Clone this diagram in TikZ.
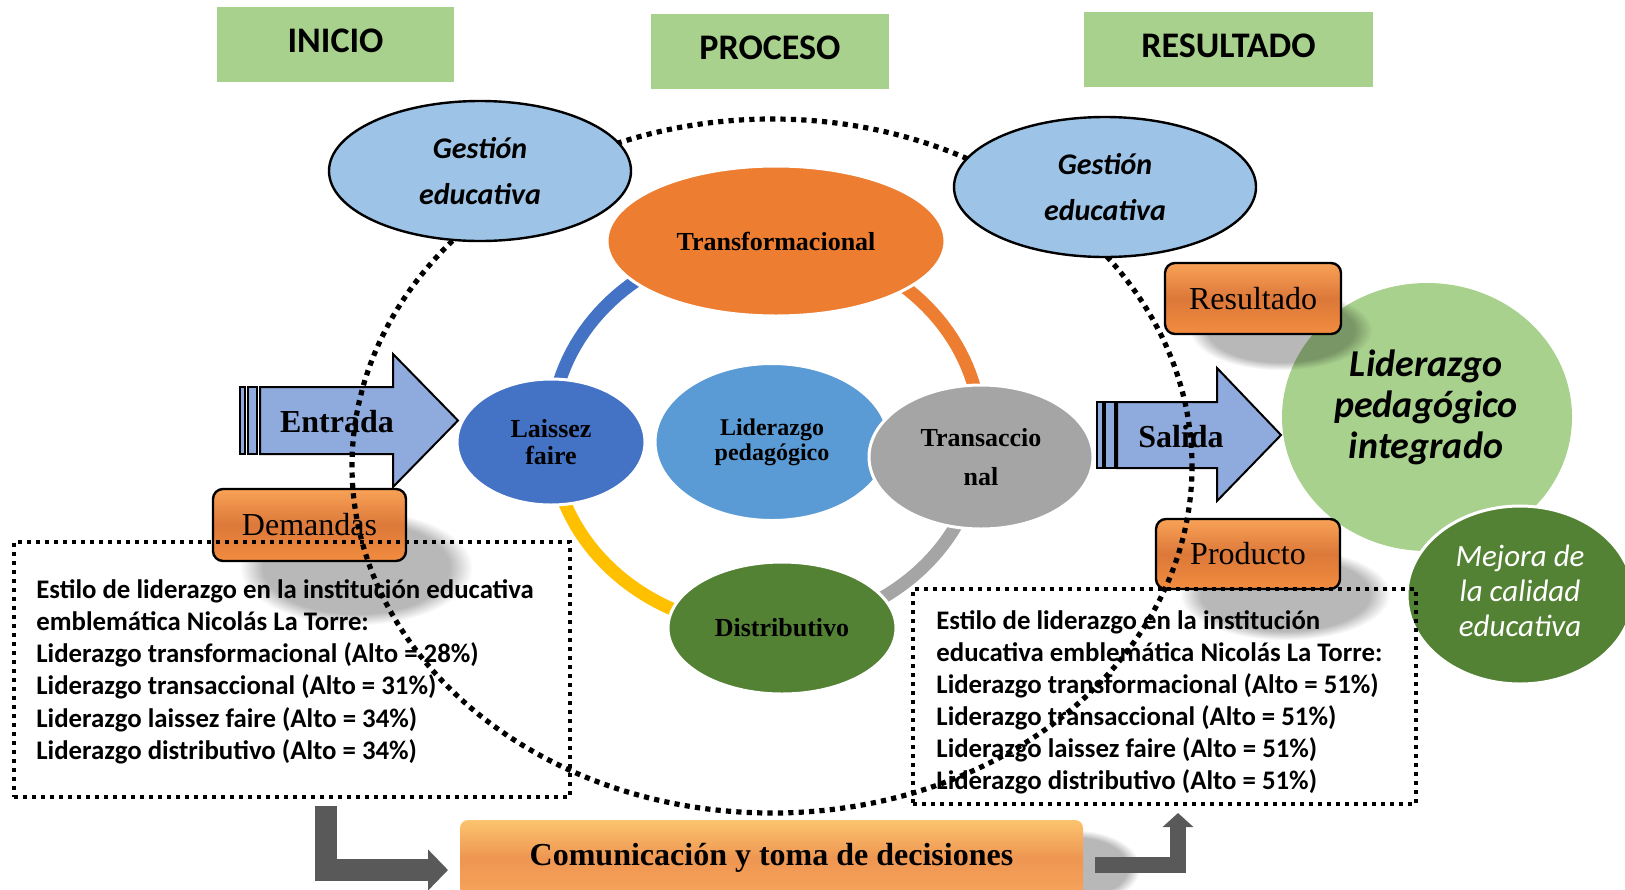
\documentclass[tikz,border=0pt]{standalone}
\usepackage{fontspec}
\setmainfont{Liberation Serif}
\newfontfamily\calfont{Carlito}
\usetikzlibrary{shapes.geometric,arrows.meta,fadings}
\definecolor{hdrgreen}{HTML}{A9D18E}
\definecolor{gestblue}{HTML}{9DC3E6}
\definecolor{accorange}{HTML}{ED7D31}
\definecolor{accblue}{HTML}{4472C4}
\definecolor{midblue}{HTML}{5B9BD5}
\definecolor{accgray}{HTML}{A5A5A5}
\definecolor{accgold}{HTML}{FFC000}
\definecolor{accgreen}{HTML}{548235}
\definecolor{arrowblue}{HTML}{8FAADC}
\definecolor{darkgray}{HTML}{595959}
\definecolor{orA}{HTML}{F9A257}
\definecolor{orB}{HTML}{DC7839}
\definecolor{orC}{HTML}{F28C3F}
\definecolor{coA}{HTML}{FCC46E}
\definecolor{coB}{HTML}{EE9652}
\definecolor{coC}{HTML}{F7A45C}
\tikzset{
  hdr/.style={fill=hdrgreen, inner sep=0pt, text depth=3.5pt, font=\calfont\bfseries\fontsize{18}{22}\selectfont},
  gest/.style={ellipse, draw=black, line width=1.2pt, fill=gestblue, inner sep=0pt, align=center,
    font=\calfont\bfseries\itshape\fontsize{15}{23}\selectfont},
  ringnode/.style={ellipse, draw=white, line width=1.5pt, inner sep=0pt, align=center,
    font=\bfseries\fontsize{13}{13.5}\selectfont},
  ringarc/.style={line width=6.5pt},
  obox/.style={rectangle, rounded corners=5pt, draw=black, line width=1.2pt,
    top color=orA, bottom color=orC, middle color=orB, inner sep=0pt,
    font=\fontsize{16}{19}\selectfont},
  cbox/.style={rectangle, rounded corners=4pt, top color=coA, bottom color=coC, middle color=coB,
    inner sep=0pt, font=\bfseries\fontsize{16}{19}\selectfont},
  txtbox/.style={draw=black, line width=2pt, dash pattern=on 2.2pt off 2.3pt, inner sep=0pt},
  boxline/.style={font=\calfont\bfseries\fontsize{13.4}{16}\selectfont, inner sep=0pt, anchor=base west},
  bigarrow/.style={fill=arrowblue, draw=black, line width=1pt, line join=miter},
  arrowtext/.style={font=\bfseries\fontsize{16}{19}\selectfont, inner sep=0pt},
  shadowblob/.style={fill=black, fill opacity=0.28, path fading=circle with fuzzy edge 20 percent},
  bigdot/.style={draw=black, line width=2.6pt, dash pattern=on 2.6pt off 2.6pt},
  grayarrow/.style={draw=darkgray, line join=miter},
}
\begin{document}
\begin{tikzpicture}[x=0.5pt,y=-0.5pt]
\useasboundingbox (0,0) rectangle (1625,889);
\clip (0,0) rectangle (1625,889);

% headers
\node[hdr, minimum width=118.5pt, minimum height=37.5pt] (inicio) at (335.5,44.5) {INICIO};
\node[hdr, minimum width=119pt, minimum height=37.5pt] (proceso) at (770,51.5) {PROCESO};
\node[hdr, minimum width=144.5pt, minimum height=37.5pt] (resultadoh) at (1228.5,49.5) {RESULTADO};

% ring arcs
\draw[ringarc, draw=accblue] plot[domain=180:270, samples=40, variable=\t] ({766+215*cos(\t)}, {435+193.5*sin(\t)});
\draw[ringarc, draw=accorange] plot[domain=270:360, samples=40, variable=\t] ({766+215*cos(\t)}, {435+193.5*sin(\t)});
\draw[ringarc, draw=accgray] plot[domain=0:90, samples=40, variable=\t] ({766+215*cos(\t)}, {435+193.5*sin(\t)});
\draw[ringarc, draw=accgold] plot[domain=90:180, samples=40, variable=\t] ({766+215*cos(\t)}, {435+193.5*sin(\t)});

% ring nodes
\node[ringnode, fill=accorange, minimum width=169pt, minimum height=75pt] (tf) at (776,241) {Transformacional};
\node[ringnode, fill=accblue, minimum width=94pt, minimum height=63pt] (lf) at (551,442) {Laissez\\faire};
\node[ringnode, fill=midblue, minimum width=117pt, minimum height=78.5pt, font=\bfseries\fontsize{12}{12.5}\selectfont] (lp) at (772,442) {Liderazgo\\pedagógico};
\node[ringnode, fill=accgray, minimum width=112pt, minimum height=72pt, font=\bfseries\fontsize{13}{19.5}\selectfont] (tr) at (981,457) {Transaccio\\nal};
\node[ringnode, fill=accgreen, minimum width=114pt, minimum height=66pt] (di) at (782,628) {Distributivo};

% Entrada arrow
\draw[bigarrow] (240,387) rectangle (245,454);
\draw[bigarrow] (248,387) rectangle (257,454);
\draw[bigarrow] (260,387) -- (393,387) -- (393,354) -- (458,420.5) -- (393,487) -- (393,454) -- (260,454) -- cycle;
\node[arrowtext] (entrada) at (337,422) {Entrada};

% Salida arrow
\draw[bigarrow] (1097,402) rectangle (1103,468);
\draw[bigarrow] (1105,402) rectangle (1115,468);
\draw[bigarrow] (1117,402) -- (1217,402) -- (1217,368) -- (1281,435) -- (1217,501) -- (1217,468) -- (1117,468) -- cycle;
\node[arrowtext] (salida) at (1181,437) {Salida};

% green circles
\node[ellipse, fill=hdrgreen, inner sep=0pt, minimum width=145pt, minimum height=134pt] (lpi) at (1427,417) {};
\node[align=center, inner sep=0pt, font=\calfont\bfseries\itshape\fontsize{19}{20.5}\selectfont] (lpitext) at (1426,407) {Liderazgo\\pedagógico\\integrado};
\node[ellipse, fill=accgreen, draw=white, line width=1.5pt, inner sep=0pt, minimum width=113pt, minimum height=89pt] (mej) at (1520,595) {};
\node[align=center, inner sep=0pt, text=white, font=\calfont\itshape\fontsize{15.5}{17.5}\selectfont] (mejtext) at (1520,591) {Mejora de\\la calidad\\educativa};

% shadows
\fill[shadowblob] (240,510) rectangle (472,625);
\fill[shadowblob] (1190,290) rectangle (1372,370);
\fill[shadowblob] (1180,548) rectangle (1390,640);
\fill[shadowblob] (1010,830) rectangle (1140,905);

% orange boxes
\node[obox, minimum width=96.5pt, minimum height=36pt] (dem) at (309.5,525) {Demandas};
\node[obox, minimum width=88pt, minimum height=35.5pt] (res) at (1253,298.5) {Resultado};
\node[obox, minimum width=92pt, minimum height=35pt] (prod) at (1248,554) {Producto};
\node[cbox, minimum width=311.5pt, minimum height=38pt] (com) at (771.5,858) {Comunicación y toma de decisiones};

% gray L arrows
\coordinate (la0) at (326,806);
\coordinate (la1) at (448,870);
\draw[grayarrow, line width=11pt, -{Triangle[width=20pt,length=10pt]}] (la0) |- (la1);
\coordinate (ra0) at (1095,865);
\coordinate (ra1) at (1178,813);
\draw[grayarrow, line width=8pt, -{Triangle[width=15pt,length=7pt]}] (ra0) -| (ra1);

% text boxes
\node[txtbox, minimum width=278pt, minimum height=127.5pt] (lbox) at (292,669.5) {};
\foreach \ln [count=\i] in {{Estilo de liderazgo en la institución educativa},{emblemática Nicolás La Torre:},{Liderazgo transformacional (Alto = 28\%)},{Liderazgo transaccional (Alto = 31\%)},{Liderazgo laissez faire (Alto = 34\%)},{Liderazgo distributivo (Alto = 34\%)}}
  \node[boxline] (ll\i) at (36,{598+32.3*(\i-1)}) {\ln};
\node[txtbox, minimum width=251.5pt, minimum height=107.5pt] (rbox) at (1164.5,696.5) {};
\foreach \ln [count=\i] in {{Estilo de liderazgo en la institución},{educativa emblemática Nicolás La Torre:},{Liderazgo transformacional (Alto = 51\%)},{Liderazgo transaccional (Alto = 51\%)},{Liderazgo laissez faire (Alto = 51\%)},{Liderazgo distributivo (Alto = 51\%)}}
  \node[boxline] (rl\i) at (936,{629+32*(\i-1)}) {\ln};

% big dotted ellipse
\draw[bigdot] (772,466) ellipse [x radius=420, y radius=347];

% Gestion ellipses
\node[gest, minimum width=151pt, minimum height=70pt] (g1) at (480,171) {Gestión\\educativa};
\node[gest, minimum width=151pt, minimum height=70pt] (g2) at (1105,187) {Gestión\\educativa};
\end{tikzpicture}
\end{document}
